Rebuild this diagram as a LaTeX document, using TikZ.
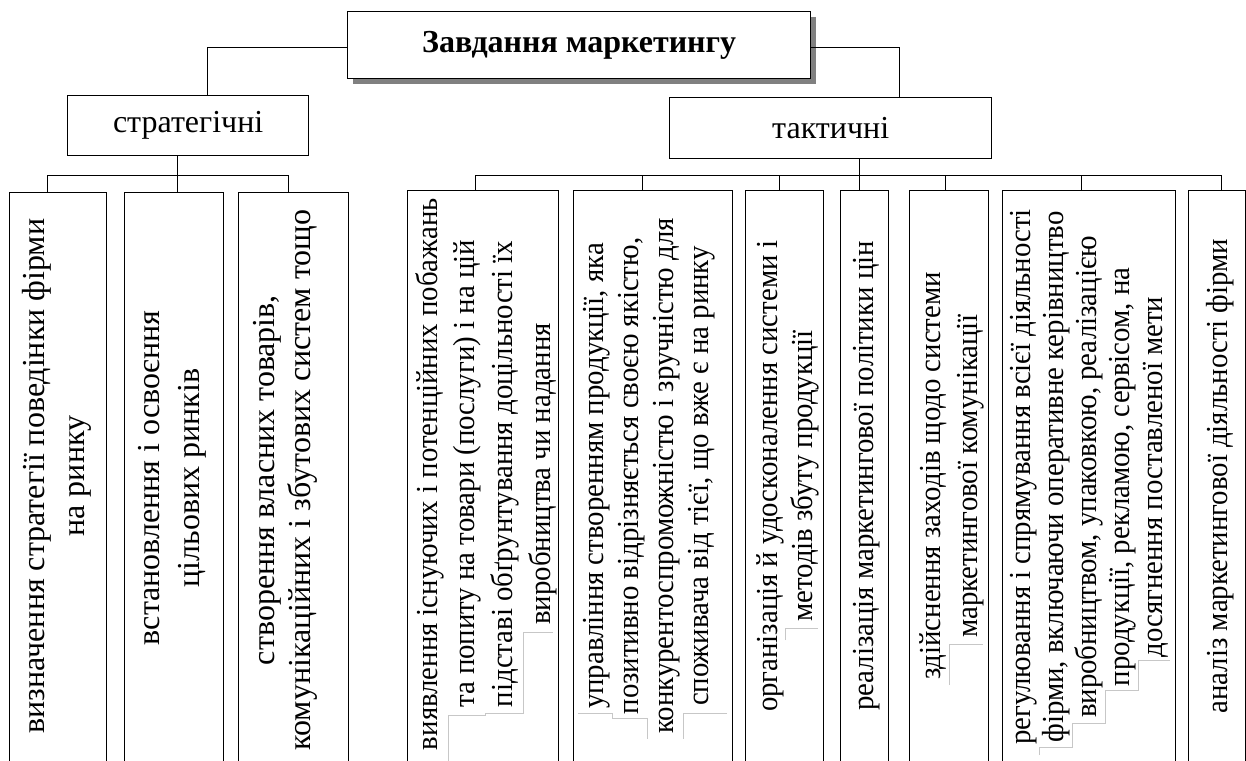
\documentclass[tikz,border=0pt]{standalone}
\usepackage{fontspec}
\setmainfont{Liberation Serif}
\newfontfamily\tfont[FakeStretch=0.945]{Liberation Serif}
\begin{document}
\begin{tikzpicture}[x=1pt,y=-1pt,
  box/.style={draw, line width=1.3pt, inner sep=0pt, anchor=north west},
  ln/.style={line width=1.3pt},
  vtext/.style={rotate=90, align=center, inner sep=0pt},
  art/.style={draw=black!22, line width=0.6pt},
  lbl/.style={font=\fontsize{32}{38}\selectfont, inner sep=0pt}]
\clip (0,0) rectangle (1246,760);
\fill[white] (0,0) rectangle (1246,760);

% top box with shadow
\fill[black!50] (353,17) rectangle (816,84);
\node[box, fill=white, minimum width=463pt, minimum height=67pt] (top) at (347,11) {};
\node[font=\bfseries\fontsize{32}{38}\selectfont, inner sep=0pt] (title) at (top.center) {Завдання маркетингу};

% second level
\node[box, minimum width=241pt, minimum height=60pt] (strat) at (67,95) {};
\node[lbl] (stratl) at (strat.center) {стратегічні};
\node[box, minimum width=322pt, minimum height=61pt] (tact) at (669,97) {};
\node[lbl] (tactl) at (tact.center) {тактичні};

\draw[ln] ([yshift=-2.5pt]top.west) -| ([xshift=19.5pt]strat.north);
\draw[ln] ([yshift=-2.5pt]top.east) -| ([xshift=69pt]tact.north);

% strategic children
\node[box, minimum width=97pt, minimum height=600pt] (s1) at (9,192) {};
\node[box, minimum width=99pt, minimum height=600pt] (s2) at (124,192) {};
\node[box, minimum width=110pt, minimum height=600pt] (s3) at (238,192) {};

\coordinate (sb) at ([xshift=-10.5pt,yshift=-19pt]strat.south);
\draw[ln] ([xshift=-10.5pt]strat.south) -- (sb);
\draw[ln] (sb) -| ([xshift=-10.5pt]s1.north);
\draw[ln] (sb) -| ([xshift=3.5pt]s2.north);
\draw[ln] (sb) -| ([xshift=-5pt]s3.north);

% tactical children
\node[box, minimum width=151pt, minimum height=600pt] (t1) at (407,190) {};
\node[box, minimum width=159pt, minimum height=600pt] (t2) at (573,190) {};
\node[box, minimum width=78pt, minimum height=600pt] (t3) at (745,190) {};
\node[box, minimum width=48pt, minimum height=600pt] (t4) at (840,190) {};
\node[box, minimum width=79pt, minimum height=600pt] (t5) at (909,190) {};
\node[box, minimum width=173pt, minimum height=600pt] (t6) at (1002,190) {};
\node[box, minimum width=57pt, minimum height=600pt] (t7) at (1188,190) {};

\coordinate (tb) at ([xshift=29pt,yshift=-16pt]tact.south);
\draw[ln] ([xshift=29pt]tact.south) -- (tb);
\draw[ln] (tb) -| ([xshift=-7.5pt]t1.north);
\draw[ln] (tb) -| ([xshift=-10.5pt]t2.north);
\draw[ln] (tb) -| ([xshift=-5pt]t3.north);
\draw[ln] (tb) -| ([xshift=-5pt]t4.north);
\draw[ln] (tb) -| ([xshift=-3.5pt]t5.north);
\draw[ln] (tb) -| ([xshift=-7.5pt]t6.north);
\draw[ln] (tb) -| ([xshift=4.5pt]t7.north);

% artefact lines
\draw[art] (448,780) -- (448,715) -- (485,715) -- (485,713) -- (523,713) -- (523,632) -- (553,632);
\draw[art] (578,713) -- (612,713) -- (612,718) -- (647,718) -- (647,739);
\draw[art] (727,713) -- (683,713) -- (683,739);
\draw[art] (785,640) -- (785,628) -- (818,628);
\draw[art] (949,685) -- (949,644) -- (983,644);
\draw[art] (1039,755) -- (1039,747) -- (1072,747) -- (1072,723) -- (1105,723) -- (1105,690) -- (1138,690) -- (1138,660) -- (1170,660);

% texts
\node[vtext, font=\fontsize{32}{40}\selectfont] (s1t) at (57,476) {визначення стратегії поведінки фірми\\на ринку};
\node[vtext, font=\fontsize{32}{40}\selectfont] (s2t) at (172,478) {встановлення і освоєння\\цільових ринків};
\node[vtext, font=\fontsize{32}{36}\selectfont] (s3t) at (285,480) {створення власних товарів,\\комунікаційних і збутових систем тощо};

\node[vtext, font=\tfont\fontsize{30.5}{37.7}\selectfont] (t1t) at (486,474) {виявлення існуючих і потенційних побажань\\та попиту на товари (послуги) і на цій\\підставі обґрунтування доцільності їх\\виробництва чи надання};
\node[vtext, font=\tfont\fontsize{30.5}{35}\selectfont] (t2t) at (649,476) {управління створенням продукції, яка\\позитивно відрізняється своєю якістю,\\конкурентоспроможністю і зручністю для\\споживача від тієї, що вже є на ринку};
\node[vtext, font=\tfont\fontsize{30.5}{35}\selectfont] (t3t) at (787.5,476) {організація й удосконалення системи і\\методів збуту продукції};
\node[vtext, font=\tfont\fontsize{30.5}{35}\selectfont] (t4t) at (867,476) {реалізація маркетингової політики цін};
\node[vtext, font=\tfont\fontsize{30.5}{37}\selectfont] (t5t) at (951.5,476) {здійснення заходів щодо системи\\маркетингової комунікації};
\node[vtext, font=\tfont\fontsize{30.5}{33}\selectfont] (t6t) at (1089.6,477) {регулювання і спрямування всієї діяльності\\фірми, включаючи оперативне керівництво\\виробництвом, упаковкою, реалізацією\\продукції, рекламою, сервісом, на\\досягнення поставленої мети};
\node[vtext, font=\tfont\fontsize{30.5}{35}\selectfont] (t7t) at (1220,476) {аналіз маркетингової діяльності фірми};
\end{tikzpicture}
\end{document}
